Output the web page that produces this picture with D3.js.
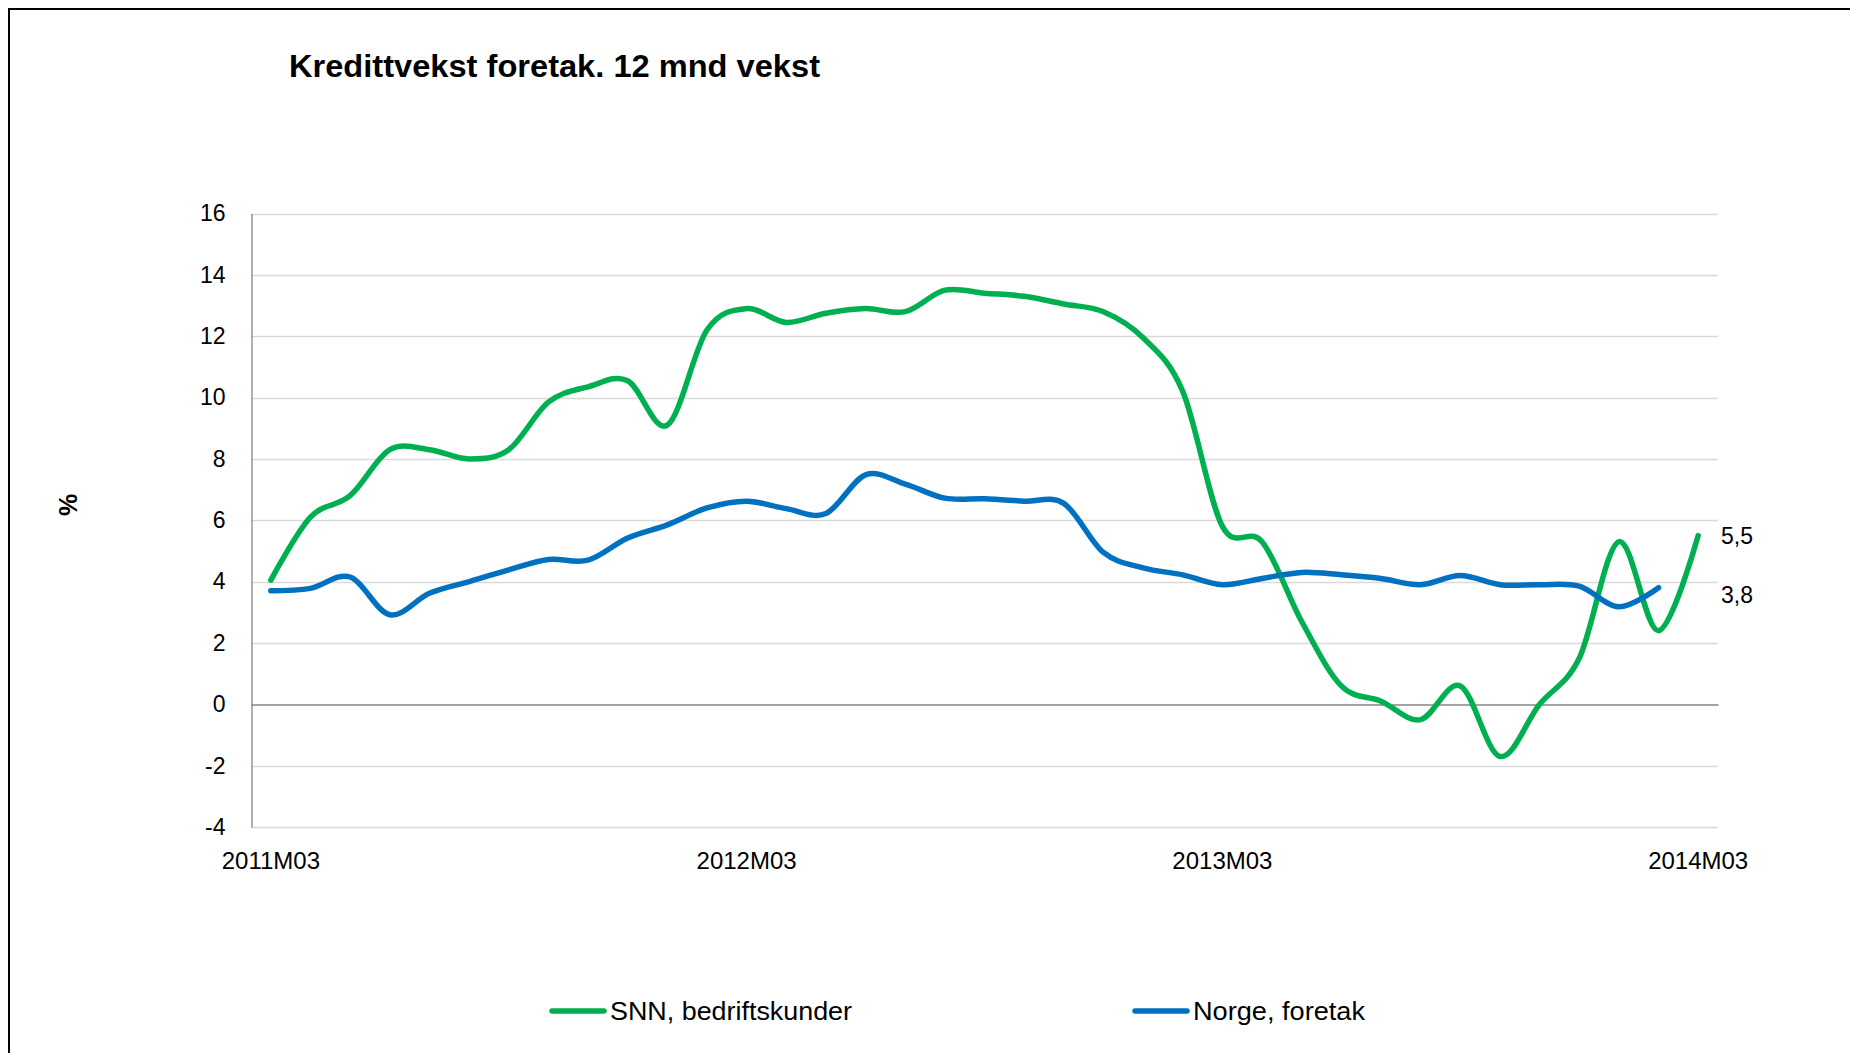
<!DOCTYPE html>
<html>
<head>
<meta charset="utf-8">
<script src="https://cdn.jsdelivr.net/npm/d3@7"></script>
<style>
  html, body { margin: 0; padding: 0; background: #fff; }
  svg { display: block; }
  text { font-family: "Liberation Sans", Arial, sans-serif; fill: #000; }
</style>
</head>
<body>
<svg id="chart" width="1850" height="1053"></svg>
<script>
const categories = [
  "2011M03","2011M04","2011M05","2011M06","2011M07","2011M08","2011M09","2011M10","2011M11","2011M12",
  "2012M01","2012M02","2012M03","2012M04","2012M05","2012M06","2012M07","2012M08","2012M09","2012M10",
  "2012M11","2012M12","2013M01","2013M02","2013M03","2013M04","2013M05","2013M06","2013M07","2013M08",
  "2013M09","2013M10","2013M11","2013M12","2014M01","2014M02","2014M03"
];
const snnValues = [4.05, 6.1, 6.8, 8.3, 8.3, 8.0, 8.3, 9.85, 10.35, 10.55, 9.1, 12.2, 12.9, 12.45, 12.75, 12.9, 12.8, 13.5, 13.4, 13.3,
  13.05, 12.8, 11.95, 10.2, 5.8, 5.3, 2.7, 0.6, 0.1, -0.5, 0.6, -1.7, 0.0, 1.5, 5.3, 2.4, 5.5];
const norgeValues = [3.7, 3.78, 4.15, 2.92, 3.62, 4.0, 4.38, 4.72, 4.7, 5.42, 5.85, 6.4, 6.62, 6.38, 6.22, 7.48, 7.18, 6.72, 6.7, 6.62,
  6.55, 4.95, 4.45, 4.22, 3.9, 4.1, 4.3, 4.22, 4.1, 3.9, 4.2, 3.9, 3.9, 3.85, 3.18, 3.8];
const seriesNames = ["SNN, bedriftskunder", "Norge, foretak"];
const yTicks = [-4, -2, 0, 2, 4, 6, 8, 10, 12, 14, 16];
const xTickLabels = ["2011M03", "2012M03", "2013M03", "2014M03"];
const endLabels = ["5,5", "3,8"];
const titleText = "Kredittvekst foretak. 12 mnd vekst";
const yAxisTitle = "%";

const colors = ["#00B050", "#0070C0"];
const svg = d3.select("#chart");

// outer frame
svg.append("rect").attr("x", 9).attr("y", 9).attr("width", 1880).attr("height", 1100)
  .attr("fill", "none").attr("stroke", "#000").attr("stroke-width", 2);

const plot = { left: 251, right: 1718, top: 213.5, bottom: 827 };

const x = d3.scaleBand().domain(categories).range([plot.left, plot.right]).padding(0);
const xc = d => x(d) + x.bandwidth() / 2;
const y = d3.scaleLinear().domain([-4, 16]).range([plot.bottom, plot.top]);

// gridlines
svg.append("g").selectAll("line").data(yTicks.filter(t => t !== 0)).join("line")
  .attr("x1", plot.left).attr("x2", plot.right)
  .attr("y1", d => Math.round(y(d)) + 0.5).attr("y2", d => Math.round(y(d)) + 0.5)
  .attr("stroke", "#d9d9d9").attr("stroke-width", 1.3);

// y axis
const yAxis = d3.axisLeft(y).tickValues(yTicks).tickSize(0).tickPadding(26).tickFormat(d => String(d));
const gy = svg.append("g").attr("transform", `translate(${plot.left + 0.5},0)`).call(yAxis);
gy.select(".domain").attr("stroke", "#868686").attr("stroke-width", 1.3);
gy.selectAll("text").style("font-size", "23px").attr("fill", "#000").attr("font-family", "Liberation Sans, Arial, sans-serif");

// x axis at zero
const xAxis = d3.axisBottom(x).tickValues(xTickLabels).tickSize(0).tickFormat(d => d);
const gx = svg.append("g").attr("transform", `translate(0,${Math.round(y(0)) + 0.5})`).call(xAxis);
gx.select(".domain").attr("stroke", "#868686").attr("stroke-width", 1.3);
gx.selectAll("text").style("font-size", "24px").attr("fill", "#000")
  .attr("font-family", "Liberation Sans, Arial, sans-serif")
  .attr("y", y(-4) - y(0) + 25).attr("dy", "0.71em");

// lines
const line = d3.line().x((d, i) => xc(categories[i])).y(d => y(d)).curve(d3.curveCardinal.tension(0));
const series = [snnValues, norgeValues];
svg.append("g").selectAll("path").data(series).join("path")
  .attr("d", d => line(d))
  .attr("fill", "none")
  .attr("stroke", (d, i) => colors[i])
  .attr("stroke-width", 5.5)
  .attr("stroke-linecap", "round")
  .attr("stroke-linejoin", "round");

// end labels
const lastVals = [snnValues[snnValues.length - 1], norgeValues[norgeValues.length - 1]];
const labelOffsets = [0, 7];
svg.append("g").selectAll("text").data(endLabels).join("text")
  .attr("x", plot.right + 3)
  .attr("y", (d, i) => y(lastVals[i]) + labelOffsets[i])
  .attr("dy", "0.35em")
  .style("font-size", "23px")
  .text(d => d);

// title
svg.append("text").attr("x", 289).attr("y", 77)
  .style("font-size", "31px").style("font-weight", "bold")
  .attr("textLength", 531).attr("lengthAdjust", "spacingAndGlyphs")
  .text(titleText);

// y axis title
svg.append("text").attr("transform", "translate(77,505) rotate(-90)")
  .attr("text-anchor", "middle")
  .style("font-size", "25px").style("font-weight", "bold")
  .text(yAxisTitle);

// legend
const legendItems = [
  { name: seriesNames[0], color: colors[0], x0: 552, tx: 610, tw: 242 },
  { name: seriesNames[1], color: colors[1], x0: 1135, tx: 1193, tw: 172 }
];
const lg = svg.append("g");
legendItems.forEach(it => {
  lg.append("line").attr("x1", it.x0).attr("x2", it.x0 + 52).attr("y1", 1011).attr("y2", 1011)
    .attr("stroke", it.color).attr("stroke-width", 5.5).attr("stroke-linecap", "round");
  lg.append("text").attr("x", it.tx).attr("y", 1011).attr("dy", "0.35em")
    .style("font-size", "26px")
    .attr("textLength", it.tw).attr("lengthAdjust", "spacingAndGlyphs")
    .text(it.name);
});
</script>
</body>
</html>
